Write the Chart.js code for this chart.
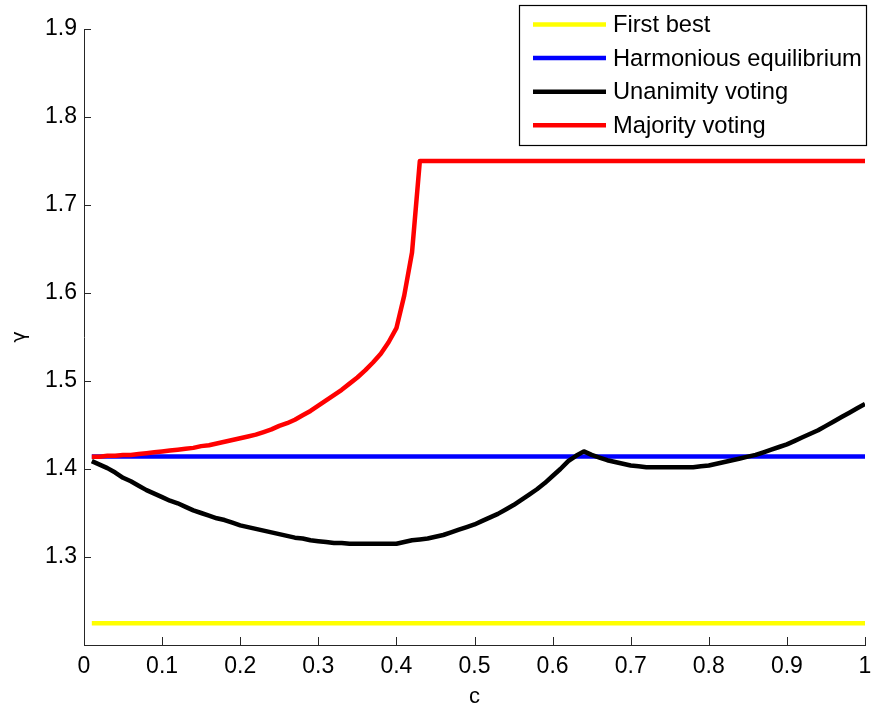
<!DOCTYPE html>
<html>
<head>
<meta charset="utf-8">
<title>gamma vs c</title>
<script src="https://cdn.jsdelivr.net/npm/chart.js@4.4.0/dist/chart.umd.min.js"></script>
<style>
  html, body { margin: 0; padding: 0; background: #fff; }
</style>
</head>
<body>
<canvas id="chart" width="872" height="710"></canvas>
<script>
// values, c = 0.01 ... 1.00
const cValues = [
  0.01, 0.02, 0.03, 0.04, 0.05, 0.06, 0.07, 0.08, 0.09, 0.10,
  0.11, 0.12, 0.13, 0.14, 0.15, 0.16, 0.17, 0.18, 0.19, 0.20,
  0.21, 0.22, 0.23, 0.24, 0.25, 0.26, 0.27, 0.28, 0.29, 0.30,
  0.31, 0.32, 0.33, 0.34, 0.35, 0.36, 0.37, 0.38, 0.39, 0.40,
  0.41, 0.42, 0.43, 0.44, 0.45, 0.46, 0.47, 0.48, 0.49, 0.50,
  0.51, 0.52, 0.53, 0.54, 0.55, 0.56, 0.57, 0.58, 0.59, 0.60,
  0.61, 0.62, 0.63, 0.64, 0.65, 0.66, 0.67, 0.68, 0.69, 0.70,
  0.71, 0.72, 0.73, 0.74, 0.75, 0.76, 0.77, 0.78, 0.79, 0.80,
  0.81, 0.82, 0.83, 0.84, 0.85, 0.86, 0.87, 0.88, 0.89, 0.90,
  0.91, 0.92, 0.93, 0.94, 0.95, 0.96, 0.97, 0.98, 0.99, 1.00
];

const unanimity = [
  1.409, 1.405, 1.401, 1.396, 1.390, 1.386, 1.381, 1.376, 1.372, 1.368,
  1.364, 1.361, 1.357, 1.353, 1.350, 1.347, 1.344, 1.342, 1.339, 1.336,
  1.334, 1.332, 1.330, 1.328, 1.326, 1.324, 1.322, 1.321, 1.319, 1.318,
  1.317, 1.316, 1.316, 1.315, 1.315, 1.315, 1.315, 1.315, 1.315, 1.315,
  1.317, 1.319, 1.320, 1.321, 1.323, 1.325, 1.328, 1.331, 1.334, 1.337,
  1.341, 1.345, 1.349, 1.354, 1.359, 1.365, 1.371, 1.377, 1.384, 1.392,
  1.400, 1.409, 1.415, 1.420, 1.416, 1.413, 1.410, 1.408, 1.406, 1.404,
  1.403, 1.402, 1.402, 1.402, 1.402, 1.402, 1.402, 1.402, 1.403, 1.404,
  1.406, 1.408, 1.410, 1.412, 1.414, 1.416, 1.419, 1.422, 1.425, 1.428,
  1.432, 1.436, 1.440, 1.444, 1.449, 1.454, 1.459, 1.464, 1.469, 1.474
];

const majority = [
  1.414, 1.414, 1.415, 1.415, 1.416, 1.416, 1.417, 1.418, 1.419, 1.420,
  1.421, 1.422, 1.423, 1.424, 1.426, 1.427, 1.429, 1.431, 1.433, 1.435,
  1.437, 1.439, 1.442, 1.445, 1.449, 1.452, 1.456, 1.461, 1.466, 1.472,
  1.478, 1.484, 1.490, 1.497, 1.504, 1.512, 1.521, 1.531, 1.544, 1.560,
  1.597, 1.646, 1.75, 1.75, 1.75, 1.75, 1.75, 1.75, 1.75, 1.75,
  1.75, 1.75, 1.75, 1.75, 1.75, 1.75, 1.75, 1.75, 1.75, 1.75,
  1.75, 1.75, 1.75, 1.75, 1.75, 1.75, 1.75, 1.75, 1.75, 1.75,
  1.75, 1.75, 1.75, 1.75, 1.75, 1.75, 1.75, 1.75, 1.75, 1.75,
  1.75, 1.75, 1.75, 1.75, 1.75, 1.75, 1.75, 1.75, 1.75, 1.75,
  1.75, 1.75, 1.75, 1.75, 1.75, 1.75, 1.75, 1.75, 1.75, 1.75
];

// the two flat lines only need their end points
const flatC = [0.01, 1.00];
const firstBest = [1.2247, 1.2247];
const harmonious = [1.4142, 1.4142];

const xTicks = [0, 0.1, 0.2, 0.3, 0.4, 0.5, 0.6, 0.7, 0.8, 0.9, 1];
const yTicks = [1.3, 1.4, 1.5, 1.6, 1.7, 1.8, 1.9];

const FONT = "'Liberation Sans', Arial, sans-serif";
const AXIS_COLOR = "#262626";

function toPoints(xs, ys) {
  return xs.map((x, i) => ({ x: x, y: ys[i] }));
}

function fmt(v) {
  return String(Math.round(v * 10) / 10);
}

// inward tick marks + boxed legend, like the original figure
const decorPlugin = {
  id: "decor",
  afterDraw(chart) {
    const { ctx, chartArea, scales } = chart;
    ctx.save();
    ctx.strokeStyle = AXIS_COLOR;
    ctx.lineWidth = 1;
    ctx.beginPath();
    scales.x.ticks.forEach(t => {
      const px = Math.round(scales.x.getPixelForValue(t.value)) + 0.5;
      ctx.moveTo(px, chartArea.bottom);
      ctx.lineTo(px, chartArea.bottom - 8);
    });
    scales.y.ticks.forEach(t => {
      const py = Math.round(scales.y.getPixelForValue(t.value)) + 0.5;
      ctx.moveTo(chartArea.left, py);
      ctx.lineTo(chartArea.left + 7, py);
    });
    ctx.stroke();

    // legend box
    const box = { left: 519.5, top: 5.5, width: 347, height: 140 };
    ctx.fillStyle = "#fff";
    ctx.fillRect(box.left, box.top, box.width, box.height);
    ctx.strokeStyle = "#000";
    ctx.lineWidth = 1.2;
    ctx.strokeRect(box.left, box.top, box.width, box.height);

    ctx.font = "23.7px " + FONT;
    ctx.textBaseline = "middle";
    ctx.textAlign = "left";
    chart.data.datasets.forEach((ds, i) => {
      const y = 24.5 + i * 33.6;
      ctx.strokeStyle = ds.borderColor;
      ctx.lineWidth = 4.5;
      ctx.beginPath();
      ctx.moveTo(533, y);
      ctx.lineTo(606, y);
      ctx.stroke();
      ctx.fillStyle = "#000";
      ctx.fillText(ds.label, 613, y + 1);
    });
    ctx.restore();
  }
};

const ctx = document.getElementById("chart").getContext("2d");
new Chart(ctx, {
  type: "line",
  data: {
    datasets: [
      { label: "First best", data: toPoints(flatC, firstBest), borderColor: "#ffff00", order: 3 },
      { label: "Harmonious equilibrium", data: toPoints(flatC, harmonious), borderColor: "#0000ff", order: 2 },
      { label: "Unanimity voting", data: toPoints(cValues, unanimity), borderColor: "#000000", order: 1 },
      { label: "Majority voting", data: toPoints(cValues, majority), borderColor: "#ff0000", order: 0 }
    ]
  },
  options: {
    responsive: false,
    animation: false,
    devicePixelRatio: 1,
    elements: {
      line: { borderWidth: 4.5, tension: 0, fill: false, borderJoinStyle: "round", borderCapStyle: "butt" },
      point: { radius: 0, hoverRadius: 0 }
    },
    layout: { padding: { top: 29, right: 7, left: 9, bottom: 0 } },
    plugins: {
      legend: { display: false },
      tooltip: { enabled: false }
    },
    scales: {
      x: {
        type: "linear",
        min: 0,
        max: 1,
        afterBuildTicks: s => { s.ticks = xTicks.map(v => ({ value: v })); },
        afterFit: s => { s.height = 65; s.paddingLeft = 0; s.paddingRight = 0; },
        ticks: {
          callback: v => fmt(v),
          font: { family: FONT, size: 23 },
          color: "#000",
          padding: 8,
          maxRotation: 0,
          autoSkip: false
        },
        grid: { display: false, drawTicks: false },
        border: { display: true, color: AXIS_COLOR, width: 1 },
        title: {
          display: true,
          text: "c",
          font: { family: FONT, size: 22 },
          color: "#000",
          padding: 0
        }
      },
      y: {
        type: "linear",
        min: 1.2,
        max: 1.9,
        afterBuildTicks: s => { s.ticks = yTicks.map(v => ({ value: v })); },
        afterFit: s => { s.width = 75; s.paddingTop = 0; s.paddingBottom = 0; },
        ticks: {
          callback: v => fmt(v),
          font: { family: FONT, size: 23 },
          color: "#000",
          padding: 7,
          autoSkip: false
        },
        grid: { display: false, drawTicks: false },
        border: { display: true, color: AXIS_COLOR, width: 1 },
        title: {
          display: true,
          text: "γ",
          font: { family: "'DejaVu Sans', sans-serif", size: 19 },
          color: "#000",
          padding: 0
        }
      }
    }
  },
  plugins: [decorPlugin]
});
</script>
</body>
</html>
